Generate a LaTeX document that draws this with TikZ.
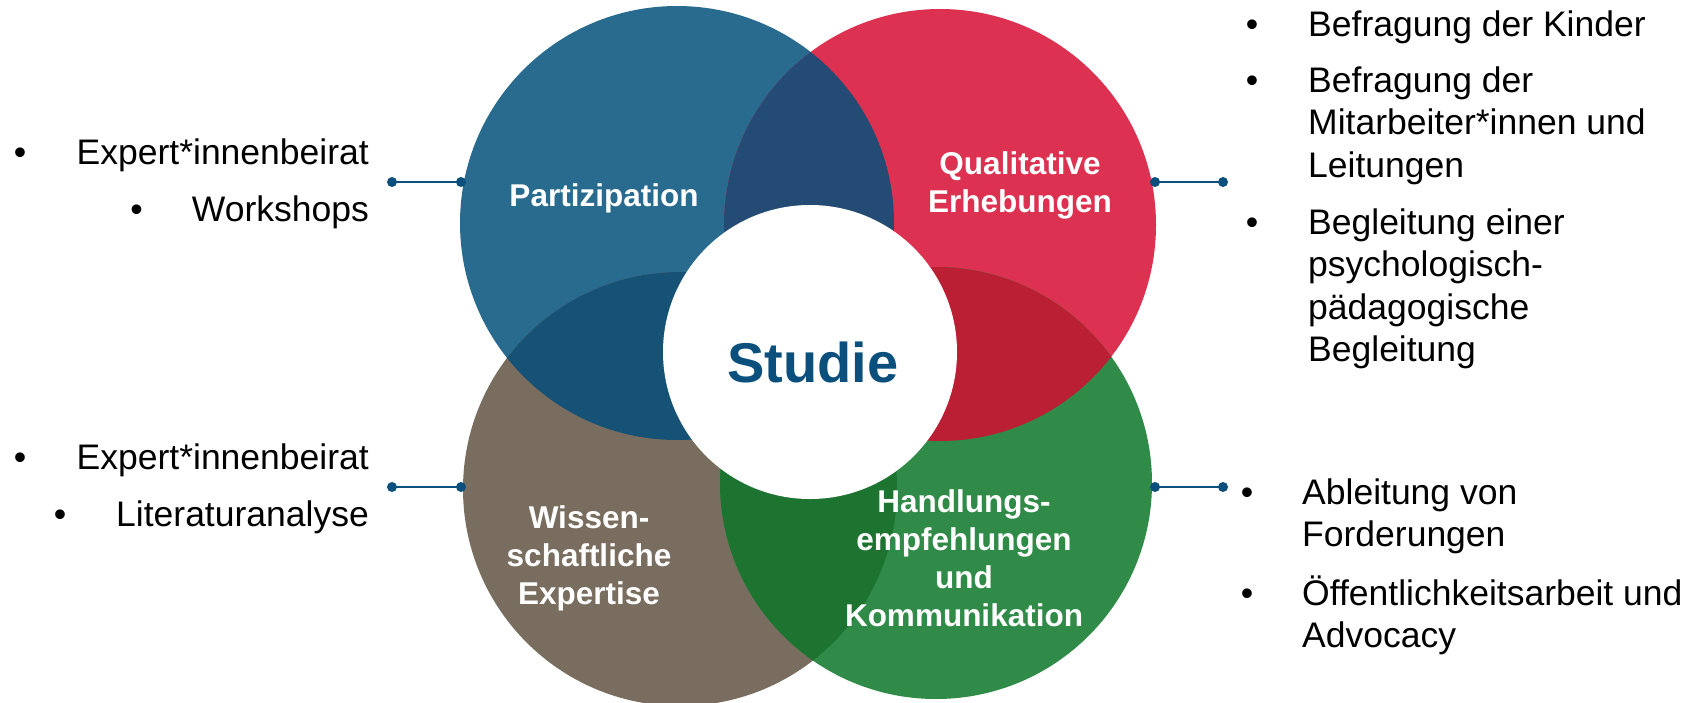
\documentclass[tikz,border=0pt]{standalone}
\usepackage{fontspec}
\setmainfont{Liberation Sans}
\definecolor{cBlue}{RGB}{41,106,143}
\definecolor{cRed}{RGB}{220,49,80}
\definecolor{cBrown}{RGB}{121,109,95}
\definecolor{cGreen}{RGB}{47,139,71}
\definecolor{ovBlueRed}{RGB}{35,75,115}
\definecolor{ovBlueBrown}{RGB}{22,82,117}
\definecolor{ovRedGreen}{RGB}{186,31,52}
\definecolor{ovBrownGreen}{RGB}{28,116,48}
\definecolor{cNavy}{RGB}{11,79,124}
\begin{document}
\begin{tikzpicture}[x=1pt,y=-1pt,
  ring/.style={circle,inner sep=0pt,outer sep=0pt,minimum size=#1},
  label/.style={text=white,inner sep=0pt,align=center,
    font=\fontsize{31.5pt}{38pt}\selectfont\bfseries},
  item/.style={text=black,inner sep=0pt,
    font=\fontsize{35.5pt}{42.5pt}\selectfont},
  rblock/.style={item,align=left,anchor=north west},
  bul/.style={item,anchor=base},
  dot/.style={circle,fill=cNavy,inner sep=0pt,minimum size=10pt},
  conn/.style={draw=cNavy,line width=2.2pt}]
\useasboundingbox (0,0) rectangle (1702,702);

% the four coloured circles
\node[ring=434pt,fill=cBlue]  (blue)  at (677,223) {};
\node[ring=432pt,fill=cRed]   (red)   at (940,225) {};
\node[ring=434pt,fill=cBrown] (brown) at (680,489) {};
\node[ring=432pt,fill=cGreen] (green) at (936,483) {};

% darker overlaps
\begin{scope}
  \clip (blue.center) circle[radius=217pt];
  \fill[ovBlueRed] (red.center) circle[radius=216pt];
\end{scope}
\begin{scope}
  \clip (blue.center) circle[radius=217pt];
  \fill[ovBlueBrown] (brown.center) circle[radius=217pt];
\end{scope}
\begin{scope}
  \clip (red.center) circle[radius=216pt];
  \fill[ovRedGreen] (green.center) circle[radius=216pt];
\end{scope}
\begin{scope}
  \clip (brown.center) circle[radius=217pt];
  \fill[ovBrownGreen] (green.center) circle[radius=216pt];
\end{scope}

% centre
\node[ring=294pt,fill=white] (core) at (810,352) {};
\node[text=cNavy,inner sep=0pt,anchor=base,
  font=\fontsize{56pt}{60pt}\selectfont\bfseries] (studie) at (813,382) {Studie};

% circle labels
\node[label] (lPart) at (604,198.4) {\strut Partizipation};
\node[label] (lQual) at (1020,185.4) {\strut Qualitative\\Erhebungen\strut};
\node[label] (lWiss) at (589,558.4) {\strut Wissen-\\schaftliche\\Expertise\strut};
\node[label] (lHand) at (964,561.4) {\strut Handlungs-\\empfehlungen\\und\\Kommunikation\strut};

% connectors
\node[dot] (ulA) at (392,182) {};
\node[dot] (ulB) at (461,182) {};
\node[dot] (llA) at (392,487) {};
\node[dot] (llB) at (461,487) {};
\node[dot] (urA) at (1155,182) {};
\node[dot] (urB) at (1223,182) {};
\node[dot] (lrA) at (1155,487) {};
\node[dot] (lrB) at (1223,487) {};
\draw[conn] (ulA.center) -- (ulB.center);
\draw[conn] (llA.center) -- (llB.center);
\draw[conn] (urA.center) -- (urB.center);
\draw[conn] (lrA.center) -- (lrB.center);

% left lists
\node[bul] (b1) at (20,164) {•};
\node[item,anchor=base east] (t1) at (369,164) {Expert*innenbeirat};
\node[bul] (b2) at (136.7,221.7) {•};
\node[item,anchor=base east] (t2) at (369,221.7) {Workshops};
\node[bul] (b3) at (20,469.3) {•};
\node[item,anchor=base east] (t3) at (369,469.3) {Expert*innenbeirat};
\node[bul] (b4) at (60,526.7) {•};
\node[item,anchor=base east] (t4) at (369,526.7) {Literaturanalyse};

% right lists
\node[bul] (b5) at (1252,36) {•};
\node[rblock] (t5) at (1308,6.25) {\strut Befragung der Kinder};
\node[bul] (b6) at (1252,92) {•};
\node[rblock] (t6) at (1308,62.25) {\strut Befragung der\\Mitarbeiter*innen und\\Leitungen};
\node[bul] (b7) at (1252,234) {•};
\node[rblock] (t7) at (1308,204.25) {\strut Begleitung einer\\psychologisch-\\pädagogische\\Begleitung};
\node[bul] (b8) at (1247,504) {•};
\node[rblock] (t8) at (1302,474.25) {\strut Ableitung von\\Forderungen};
\node[bul] (b9) at (1247,605) {•};
\node[rblock] (t9) at (1302,575.25) {\strut Öffentlichkeitsarbeit und\\Advocacy};
\end{tikzpicture}
\end{document}
